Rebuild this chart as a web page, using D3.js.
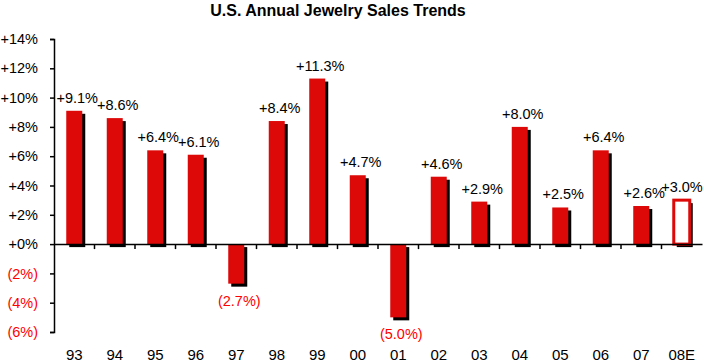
<!DOCTYPE html>
<html>
<head>
<meta charset="utf-8">
<script src="https://cdn.jsdelivr.net/npm/d3@7"></script>
<style>
  body { margin: 0; background: #fff; }
  text { font-family: Arial, "Liberation Sans", sans-serif; }
</style>
</head>
<body>
<div id="chart"></div>
<script>
// data
let years = ['93','94','95','96','97','98','99','00','01','02','03','04','05','06','07','08E'];
let growth = [9.1, 8.6, 6.4, 6.1, -2.7, 8.4, 11.3, 4.7, -5.0, 4.6, 2.9, 8.0, 2.5, 6.4, 2.6, 3.0];
let estimated = ['08E'];
let yTicks = [-6, -4, -2, 0, 2, 4, 6, 8, 10, 12, 14];

let w = 704, h = 364;
let svg = d3.select('#chart').append('svg').attr('width', w).attr('height', h);
let barRed = '#dd0808';

let fmt = function(v){
    return v < 0 ? '(' + Math.abs(v).toFixed(1) + '%)' : '+' + v.toFixed(1) + '%';
};
let fmtTick = function(v){
    return v < 0 ? '(' + Math.abs(v) + '%)' : '+' + v + '%';
};

let x = d3.scaleBand().domain(years).range([54, 702]).paddingInner(0.6).paddingOuter(0.3);
let y = d3.scaleLinear().domain([-6, 14]).range([332, 39]);

// title
svg.append('text')
    .attr('x', 338).attr('y', 16)
    .attr('text-anchor', 'middle')
    .style('font-size', '16px').style('font-weight', 'bold')
    .text('U.S. Annual Jewelry Sales Trends');

// y axis
let yAxis = d3.axisLeft(y).tickValues(yTicks).tickSize(4).tickFormat(fmtTick);
let gy = svg.append('g').attr('transform', 'translate(54,0)').call(yAxis);
gy.select('.domain').attr('stroke', '#000').attr('stroke-width', 1.5);
gy.selectAll('.tick line').attr('stroke', '#000').attr('stroke-width', 1.5);
gy.selectAll('.tick text')
    .attr('x', -16)
    .style('font-size', '14.5px').style('font-family', 'Arial, "Liberation Sans", sans-serif')
    .attr('fill', function(d){ return d < 0 ? '#ff0000' : '#000'; });

let data = years.map(function(d, i){ return {year: d, value: growth[i]}; });
let bw = 16;
let cx = function(d){ return x(d.year) + x.bandwidth() / 2; };

// shadows
svg.selectAll('.shadow').data(data).enter().append('rect')
    .attr('class', 'shadow')
    .attr('x', function(d){ return cx(d) - bw / 2 + 3; })
    .attr('y', function(d){ return Math.min(y(d.value), y(0)) + 3; })
    .attr('width', bw)
    .attr('height', function(d){ return Math.abs(y(d.value) - y(0)); })
    .attr('fill', '#000');

// bars
svg.selectAll('.bar').data(data).enter().append('rect')
    .attr('class', 'bar')
    .attr('x', function(d){ return cx(d) - bw / 2; })
    .attr('y', function(d){ return Math.min(y(d.value), y(0)); })
    .attr('width', bw)
    .attr('height', function(d){ return Math.abs(y(d.value) - y(0)); })
    .attr('fill', function(d){ return estimated.includes(d.year) ? '#fff' : barRed; })
    .attr('stroke', function(d){ return estimated.includes(d.year) ? barRed : 'none'; })
    .attr('stroke-width', 3);

// x axis at zero line
let xAxis = d3.axisBottom(x).tickSize(0).tickFormat('');
let gx = svg.append('g').attr('transform', 'translate(0,' + y(0) + ')').call(xAxis);
gx.select('.domain').attr('stroke', '#000').attr('stroke-width', 1.5);
// category dividers below the zero line
let dividers = years.slice(1);
gx.selectAll('.div').data(dividers).enter().append('line')
    .attr('x1', function(d){ return x(d) - x.step() * x.paddingInner() / 2; })
    .attr('x2', function(d){ return x(d) - x.step() * x.paddingInner() / 2; })
    .attr('y1', 0).attr('y2', 5)
    .attr('stroke', '#000').attr('stroke-width', 1.5);

// category labels
svg.selectAll('.cat').data(years).enter().append('text')
    .attr('x', function(d){ return x(d) + x.bandwidth() / 2; })
    .attr('y', 360)
    .attr('text-anchor', 'middle')
    .style('font-size', '15px')
    .text(function(d){ return d; });

// value labels
svg.selectAll('.val').data(data).enter().append('text')
    .attr('x', function(d){ return Math.min(cx(d) + 3, w - 22); })
    .attr('y', function(d){ return d.value < 0 ? y(d.value) + 22 : y(d.value) - 8; })
    .attr('text-anchor', 'middle')
    .attr('fill', function(d){ return d.value < 0 ? '#ff0000' : '#000'; })
    .style('font-size', '14.5px')
    .text(function(d){ return fmt(d.value); });
</script>
</body>
</html>
